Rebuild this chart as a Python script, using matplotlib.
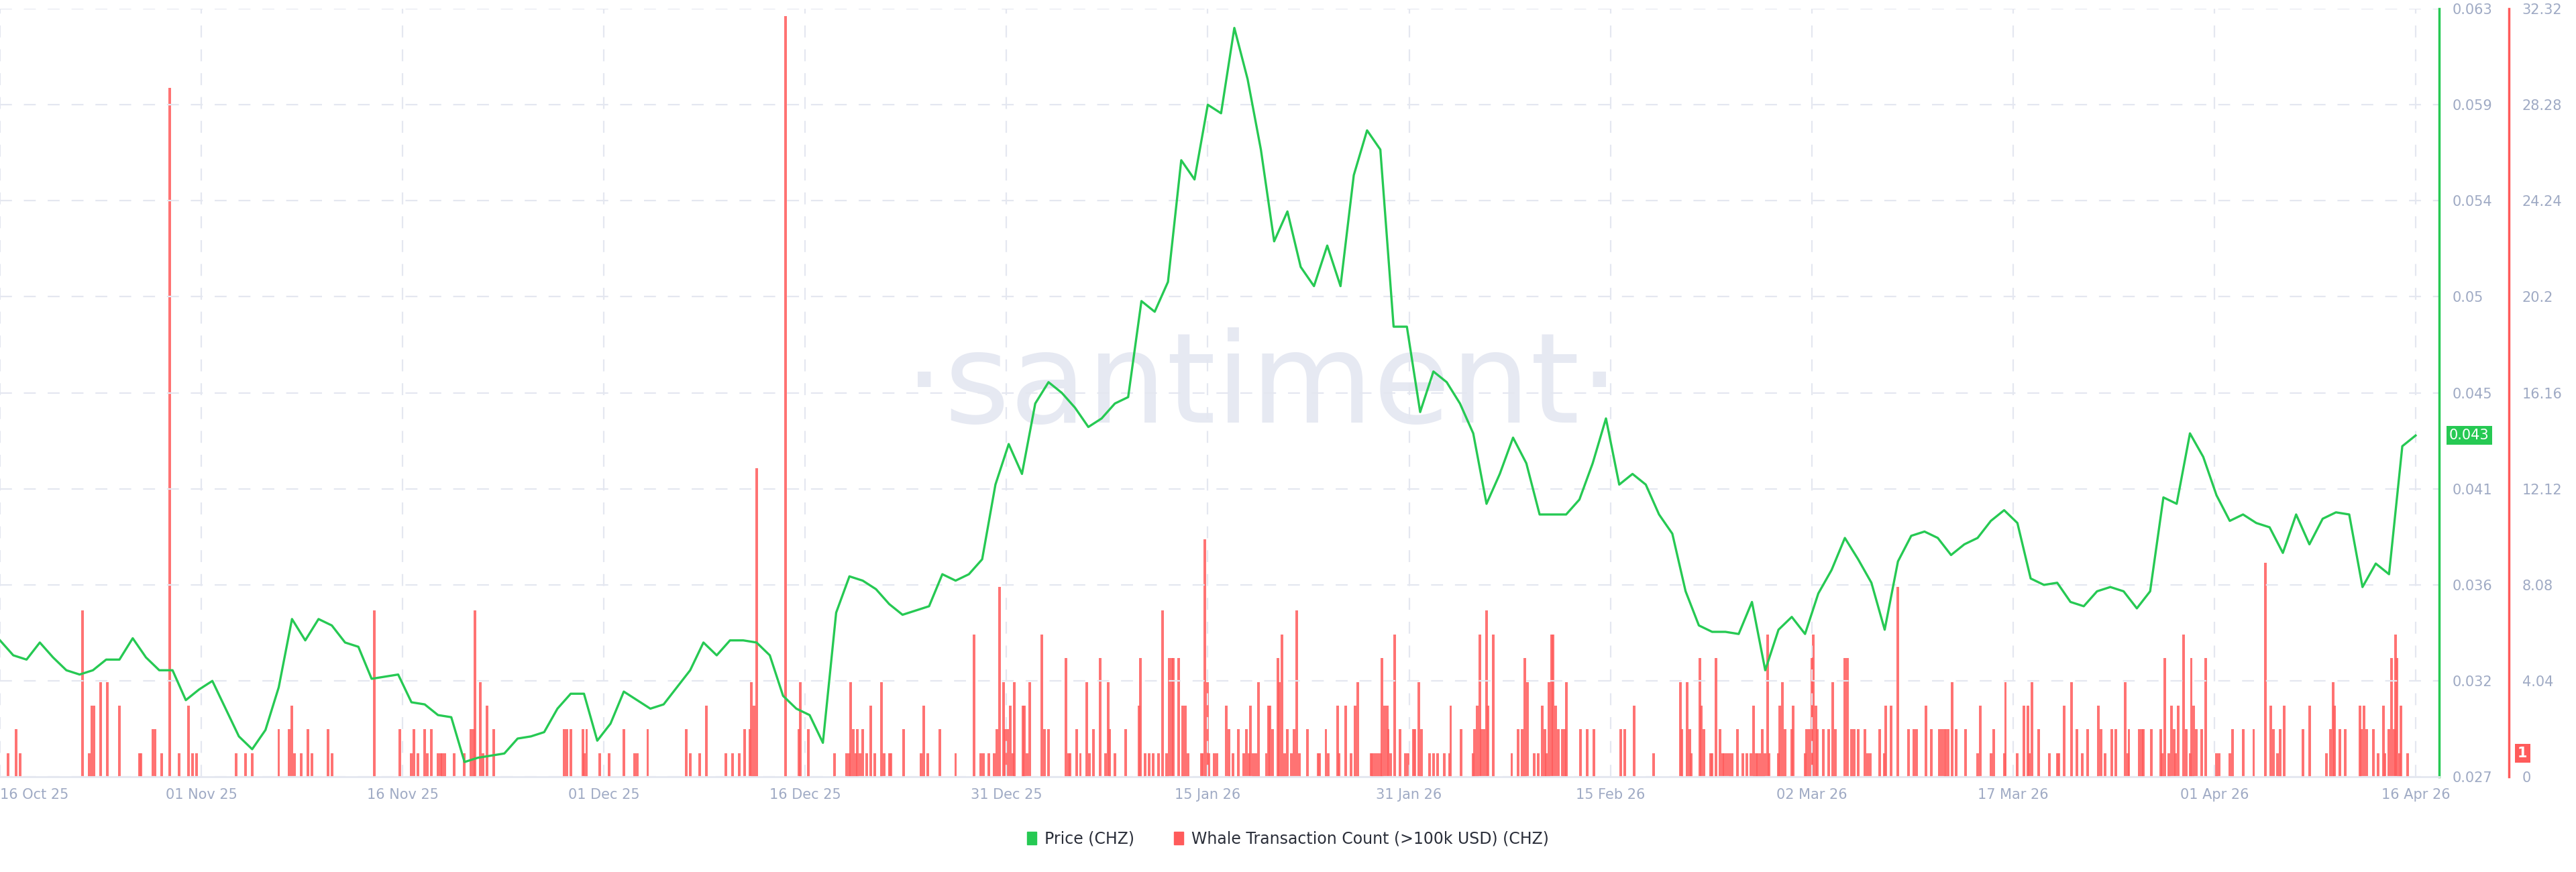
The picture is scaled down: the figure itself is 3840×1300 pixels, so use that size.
import numpy as np
import matplotlib
matplotlib.use("Agg")
import matplotlib.pyplot as plt
import matplotlib.transforms as mtransforms
from matplotlib.patches import Patch

# price (CHZ), one sample per day starting 16 Oct 25
price = [
    0.0334, 0.0327, 0.0325, 0.0333, 0.0326, 0.0320, 0.0318, 0.0320, 0.0325, 0.0325,
    0.0335, 0.0326, 0.0320, 0.0320, 0.0306, 0.0311, 0.0315, 0.0302, 0.0289, 0.0283,
    0.0292, 0.0312, 0.0344, 0.0334, 0.0344, 0.0341, 0.0333, 0.0331, 0.0316, 0.0317,
    0.0318, 0.0305, 0.0304, 0.0299, 0.0298, 0.0277, 0.0279, 0.0280, 0.0281, 0.0288,
    0.0289, 0.0291, 0.0302, 0.0309, 0.0309, 0.0287, 0.0295, 0.0310, 0.0306, 0.0302,
    0.0304, 0.0312, 0.0320, 0.0333, 0.0327, 0.0334, 0.0334, 0.0333, 0.0327, 0.0308,
    0.0302, 0.0299, 0.0286, 0.0347, 0.0364,
    0.0362, 0.0358, 0.0351, 0.0346, 0.0348, 0.0350, 0.0365, 0.0362, 0.0365, 0.0372,
    0.0407, 0.0426, 0.0412, 0.0445, 0.0455, 0.0450, 0.0443, 0.0434, 0.0438, 0.0445,
    0.0448, 0.0493, 0.0488, 0.0502, 0.0559, 0.0550, 0.0585, 0.0581, 0.0621, 0.0597,
    0.0564, 0.0521, 0.0535, 0.0509, 0.0500, 0.0519, 0.0500, 0.0552, 0.0573, 0.0564,
    0.0481, 0.0481, 0.0441, 0.0460, 0.0455, 0.0445, 0.0431, 0.0398, 0.0412, 0.0429,
    0.0417, 0.0393, 0.0393, 0.0393, 0.0400, 0.0417, 0.0438, 0.0407, 0.0412, 0.0407,
    0.0393, 0.0384,
    0.0357, 0.0341, 0.0338, 0.0338, 0.0337, 0.0352, 0.0320, 0.0339, 0.0345, 0.0337,
    0.0356, 0.0367, 0.0382, 0.0372, 0.0361, 0.0339, 0.0371, 0.0383, 0.0385, 0.0382,
    0.0374, 0.0379, 0.0382, 0.0390, 0.0395, 0.0389, 0.0363, 0.0360, 0.0361, 0.0352,
    0.0350, 0.0357, 0.0359, 0.0357, 0.0349, 0.0357, 0.0401, 0.0398, 0.0431, 0.0420,
    0.0402, 0.0390, 0.0393, 0.0389, 0.0387, 0.0375, 0.0393, 0.0379, 0.0391, 0.0394,
    0.0393, 0.0359, 0.0370, 0.0365, 0.0425, 0.0430,
]

# whale transactions (>100k USD): day offset from 16 Oct 25, count
whale_day = [
    0.6, 1.2, 1.5, 6.2, 6.7, 6.9, 7.1, 7.6, 8.1, 9.0, 10.5, 10.6, 11.5, 11.7, 12.2, 12.8,
    13.5, 14.2, 14.5, 14.8, 17.8, 18.5, 19.0, 21.0, 21.8, 22.0, 22.2, 22.7, 23.2, 23.5,
    24.7, 25.0, 28.2, 30.1, 31.0, 31.2, 31.5, 32.0, 32.2, 32.5, 33.0, 33.2, 33.3, 33.5,
    34.2, 35.0, 35.5, 35.7, 35.8, 36.2, 36.4, 36.7, 37.2, 42.5, 42.7, 43.0, 43.9, 44.0,
    44.2, 45.2, 45.9, 47.0, 47.8, 48.0, 48.8, 51.7, 52.0, 52.7, 53.2, 54.7, 55.2, 55.7,
    56.1, 56.5, 56.6, 56.8, 57.0, 59.2, 60.2, 60.3,
    60.9, 62.9, 63.8, 64.0, 64.1, 64.3, 64.5, 64.6, 64.8, 65.0, 65.3, 65.6, 65.9, 66.4,
    66.6, 67.0, 67.1, 68.1, 69.4, 69.6, 69.9, 70.8, 72.0, 73.4, 73.9, 74.1, 74.5, 74.9,
    75.1, 75.3, 75.6, 75.7, 75.9, 76.1, 76.3, 76.4, 77.1, 77.2, 77.4, 77.6, 78.5, 78.7,
    79.0, 80.3, 80.5, 80.6, 81.1, 81.4, 81.9, 82.1, 82.4, 82.9, 83.3, 83.5, 83.6, 84.0,
    84.8, 85.8, 85.9, 86.3, 86.6, 86.9, 87.3, 87.6, 87.9, 88.1, 88.3, 88.4, 88.8, 89.1,
    89.3, 89.5, 90.5, 90.6, 90.8, 91.0, 91.1, 91.5, 91.7, 92.4, 92.6, 92.9, 93.3, 93.7,
    93.9, 94.1, 94.2, 94.4, 94.6, 94.8, 95.4, 95.6, 95.7, 95.9, 96.3, 96.4, 96.6, 96.8,
    97.0, 97.3, 97.5, 97.7, 97.9, 98.5, 99.3, 99.4, 99.9, 100.1, 100.8, 100.9, 101.4,
    101.8, 102.1, 102.3, 103.3, 103.4, 103.6, 103.8, 104.0, 104.1, 104.3, 104.5, 104.6,
    104.8, 105.1, 105.5, 105.9, 106.1, 106.5, 106.6, 106.9, 107.1, 107.7, 108.0, 108.3,
    108.8, 109.2, 109.3, 110.1, 111.0, 111.1, 111.3, 111.5, 111.6, 111.8, 112.0, 112.1,
    112.5, 113.9, 114.4, 114.7, 114.9, 115.1, 115.6, 115.9, 116.2, 116.4, 116.5, 116.7,
    116.9, 117.0, 117.2, 117.4, 117.7, 117.9, 118.0, 119.1, 119.6, 120.1, 122.1, 122.4,
    123.1, 124.6,
    126.6, 126.7, 127.1, 127.3, 127.4, 128.1, 128.2, 128.4, 128.9, 129.0, 129.3, 129.6,
    129.8, 129.9, 130.1, 130.3, 130.5, 130.9, 131.3, 131.6, 131.9, 132.1, 132.3, 132.4,
    132.6, 132.8, 133.0, 133.2, 133.3, 134.0, 134.1, 134.3, 134.5, 135.0, 135.1, 136.0,
    136.1, 136.3, 136.5, 136.6, 136.8, 136.9, 137.4, 137.8, 138.1, 138.3, 139.0, 139.2,
    139.5, 139.7, 140.0, 140.5, 140.7, 140.9, 141.6, 142.0, 142.1, 142.5, 143.0, 143.8,
    144.2, 144.4, 145.1, 145.5, 146.1, 146.3, 146.5, 146.6, 146.8, 147.1, 147.4, 148.1,
    149.0, 149.2, 150.0, 150.2, 151.0, 151.1, 152.0, 152.5, 152.8, 152.9, 153.1, 153.6,
    154.4, 155.0, 155.1, 155.5, 156.1, 156.5, 156.9, 157.3, 158.1, 158.3, 158.6, 159.1,
    159.4, 160.1, 160.3, 160.4, 161.2, 161.4, 161.5, 162.1, 162.8, 162.9, 163.1, 163.4,
    163.6, 163.8, 163.9, 164.1, 164.5, 164.7, 165.0, 165.1, 165.3, 165.5, 165.9, 166.2,
    167.0, 167.2, 168.0, 168.2, 169.0, 169.8, 170.7, 171.1, 171.3, 171.6, 171.8, 172.1,
    173.5, 174.0, 175.3, 175.6, 175.8, 175.9, 176.3, 176.7, 177.8, 177.9, 178.1, 178.3,
    178.8, 179.2, 179.6, 179.7, 180.0, 180.2, 180.4, 180.5, 180.6, 180.8, 180.9, 181.4,
]
whale_count = [
    1, 2, 1, 7, 1, 3, 3, 4, 4, 3, 1, 1, 2, 2, 1, 29,
    1, 3, 1, 1, 1, 1, 1, 2, 2, 3, 1, 1, 2, 1,
    2, 1, 7, 2, 1, 2, 1, 2, 1, 2, 1, 1, 1, 1,
    1, 1, 2, 2, 7, 4, 1, 3, 2, 2, 2, 2, 2, 1,
    2, 1, 1, 2, 1, 1, 2, 2, 1, 1, 3, 1, 1, 1,
    2, 2, 4, 3, 13, 32, 2, 4,
    2, 1, 1, 1, 4, 2, 1, 2, 1, 2, 1, 3, 1, 4,
    1, 1, 1, 2, 1, 3, 1, 2, 1, 6, 1, 1, 1, 1,
    2, 8, 4, 2, 2, 3, 1, 4, 3, 3, 1, 4, 6, 2,
    2, 5, 1, 1, 2, 1, 4, 1, 2, 5, 1, 4, 2, 1,
    2, 3, 5, 1, 1, 1, 1, 7, 1, 5, 5, 5, 5, 3,
    3, 1, 1, 1, 10, 4, 1, 1, 1, 3, 2, 1, 2, 1,
    2, 1, 3, 1, 1, 4, 1, 3, 3, 2, 5, 4, 6, 1,
    2, 1, 2, 7, 1, 2, 1, 1, 2, 1, 3, 1, 3,
    1, 3, 4, 1, 1, 1, 1, 1, 5, 3, 3, 2,
    1, 6, 2, 1, 1, 2, 2, 4, 2, 1, 1, 1,
    1, 1, 3, 2, 1, 2, 3, 6, 2, 2, 7, 3,
    6, 1, 2, 2, 5, 4, 1, 1, 3, 2, 1, 4,
    6, 6, 3, 2, 2, 2, 4, 2, 2, 2, 2, 2,
    3, 1,
    4, 2, 4, 2, 1, 5, 3, 2, 1, 1, 5, 2,
    1, 1, 1, 1, 1, 2, 1, 1, 1, 3, 1, 1,
    1, 2, 1, 6, 1, 1, 3, 4, 2, 2, 3, 1,
    2, 2, 5, 6, 3, 2, 2, 2, 4, 2, 5, 5,
    2, 2, 2, 2, 1, 1, 2, 1, 3, 3, 8, 2,
    2, 2, 3, 2, 2, 2, 2, 2, 2, 4, 2, 2,
    1, 3, 1, 2, 1, 4, 1, 3, 3, 1, 4, 2,
    1, 1, 1, 3, 4, 2, 1, 2, 3, 2, 1, 2,
    2, 4, 1, 2, 2, 2, 2, 2, 2, 1, 5, 1,
    3, 2, 1, 3, 6, 2, 1, 5, 3, 2, 2, 5,
    1, 1, 1, 2, 2, 2, 9, 3, 2, 1, 2, 3,
    2, 3, 1, 2, 4, 3, 2, 2, 3, 2, 3, 2,
    2, 1, 3, 1, 2, 5, 2, 6, 5, 1, 3, 1,
]

date_labels = ["16 Oct 25", "01 Nov 25", "16 Nov 25", "01 Dec 25", "16 Dec 25", "31 Dec 25",
               "15 Jan 26", "31 Jan 26", "15 Feb 26", "02 Mar 26", "17 Mar 26", "01 Apr 26",
               "16 Apr 26"]
price_ticks = [0.027, 0.0315, 0.036, 0.0405, 0.045, 0.0495, 0.054, 0.0585, 0.063]
price_tick_labels = ["0.027", "0.032", "0.036", "0.041", "0.045", "0.05", "0.054", "0.059", "0.063"]
whale_ticks = [0, 4.04, 8.08, 12.12, 16.16, 20.2, 24.24, 28.28, 32.32]
whale_tick_labels = ["0", "4.04", "8.08", "12.12", "16.16", "20.2", "24.24", "28.28", "32.32"]

GREEN = "#26c953"
RED = "#ff5b5b"
TICK = "#9faac4"
GRID = "#e4e7f0"

fig = plt.figure(figsize=(38.4, 13), dpi=100)
ax = fig.add_axes([0.0, 0.109, 0.947, 0.881])
ax2 = ax.twinx()
ax.set_zorder(ax2.get_zorder() + 1)
ax.patch.set_visible(False)

days = np.arange(len(price))
ax.plot(days, price, color=GREEN, lw=2.4, zorder=3)
ax2.bar(whale_day, whale_count, width=0.2, color=RED, alpha=0.85, lw=0)

xt = np.arange(len(date_labels)) * 182 / 12
ax.set_xlim(0, 183.8)
ax.set_xticks(xt)
ax.set_xticklabels(date_labels)
ax.get_xticklabels()[0].set_horizontalalignment("left")
ax.tick_params(axis="x", colors=TICK, labelsize=15, length=0, pad=12)

ax.set_ylim(0.027, 0.063)
ax.set_yticks(price_ticks)
ax.set_yticklabels(price_tick_labels)
ax.yaxis.tick_right()
ax.tick_params(axis="y", colors=TICK, labelsize=15, length=0, pad=14)
ax.grid(True, color=GRID, lw=1.6, ls=(0, (8, 8)))

ax2.set_ylim(0, 32.32)
ax2.set_yticks(whale_ticks)
ax2.set_yticklabels(whale_tick_labels)
ax2.spines["right"].set_position(("axes", 1.0285))
ax2.tick_params(axis="y", colors=TICK, labelsize=15, length=0, pad=14)

for a in (ax, ax2):
    for s in ("top", "left"):
        a.spines[s].set_visible(False)
ax.spines["bottom"].set_color(GRID)
ax.spines["bottom"].set_linewidth(2)
ax2.spines["bottom"].set_visible(False)
ax.spines["right"].set_color(GREEN)
ax.spines["right"].set_linewidth(2.5)
ax2.spines["right"].set_color(RED)
ax2.spines["right"].set_linewidth(2.5)

# value badges
tr = mtransforms.blended_transform_factory(ax.transAxes, ax.transData)
ax.text(1.004, price[-1], "%.3f" % price[-1], transform=tr, color="white", fontsize=15,
        va="center", ha="left", bbox=dict(boxstyle="square,pad=0.2", fc=GREEN, ec="none"))
tr2 = mtransforms.blended_transform_factory(ax2.transAxes, ax2.transData)
ax2.text(1.032, 1, str(whale_count[-1]), transform=tr2, color="white", fontsize=15,
         va="center", ha="left", fontweight="bold",
         bbox=dict(boxstyle="square,pad=0.2", fc=RED, ec="none"))

# watermark
fig.text(0.49, 0.555, "\u00b7santiment\u00b7", fontsize=135, color="#e6e9f2",
         ha="center", va="center", zorder=0)

handles = [Patch(color=GREEN, label="Price (CHZ)"),
           Patch(color=RED, label="Whale Transaction Count (>100k USD) (CHZ)")]
fig.legend(handles=handles, loc="center", bbox_to_anchor=(0.5, 0.038), ncol=2, frameon=False,
           fontsize=17, handlelength=0.6, handleheight=0.9, handletextpad=0.5, columnspacing=2.5,
           labelcolor="#2b2f3a")

fig.savefig("out.png", dpi=100, facecolor="white")
